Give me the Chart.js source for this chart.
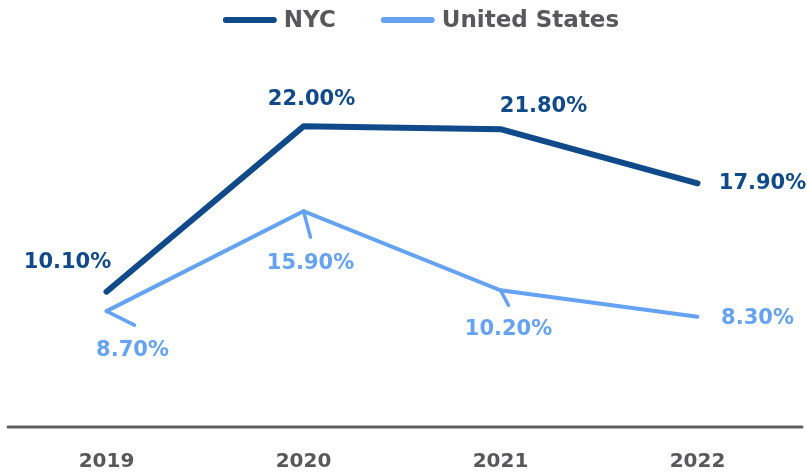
<!DOCTYPE html>
<html>
<head>
<meta charset="utf-8">
<script src="https://cdn.jsdelivr.net/npm/chart.js@4/dist/chart.umd.min.js"></script>
<style>
  html, body { margin: 0; padding: 0; background: #fff; }
  #wrap { width: 807px; height: 476px; }
</style>
</head>
<body>
<div id="wrap"><canvas id="chart"></canvas></div>
<script>
// data
const years = ['2019', '2020', '2021', '2022'];
const nycValues = [10.1, 22.0, 21.8, 17.9];
const usValues = [8.7, 15.9, 10.2, 8.3];

const NYC_COLOR = '#114A8A';
const US_COLOR = '#65A3F2';
const TEXT_GRAY = '#58585A';
const FONT = "'DejaVu Sans', sans-serif";

// label placement: offset from the point (dx, dy), plus an optional leader line end
const nycLabelPos = [
    { dx: -39, dy: -29 },
    { dx: 8, dy: -27 },
    { dx: 43, dy: -23 },
    { dx: 65, dy: 0 }
];
const usLabelPos = [
    { dx: 26, dy: 39, lead: [28, 14] },
    { dx: 7, dy: 52, lead: [7, 26] },
    { dx: 8, dy: 39, lead: [8, 15] },
    { dx: 60, dy: 2 }
];

const valueLabels = {
    id: 'valueLabels',
    afterDatasetsDraw(chart) {
        const ctx = chart.ctx;
        const setups = [nycLabelPos, usLabelPos];
        chart.data.datasets.forEach((ds, di) => {
            const meta = chart.getDatasetMeta(di);
            meta.data.forEach((pt, i) => {
                const pos = setups[di][i];
                ctx.save();
                if (pos.lead) {
                    ctx.strokeStyle = ds.borderColor;
                    ctx.lineWidth = 3.5;
                    ctx.lineCap = 'round';
                    ctx.beginPath();
                    ctx.moveTo(pt.x, pt.y);
                    ctx.lineTo(pt.x + pos.lead[0], pt.y + pos.lead[1]);
                    ctx.stroke();
                }
                ctx.fillStyle = ds.borderColor;
                ctx.font = `bold 21px ${FONT}`;
                ctx.textAlign = 'center';
                ctx.textBaseline = 'middle';
                ctx.fillText(ds.data[i].toFixed(2) + '%', pt.x + pos.dx, pt.y + pos.dy);
                ctx.restore();
            });
        });
    }
};

// bottom axis line runs a bit wider than the plot area
const baseLine = {
    id: 'baseLine',
    beforeDatasetsDraw(chart) {
        const ctx = chart.ctx;
        const y = chart.chartArea.bottom;
        ctx.save();
        ctx.strokeStyle = '#5f5f5f';
        ctx.lineWidth = 3;
        ctx.lineCap = 'round';
        ctx.beginPath();
        ctx.moveTo(8, y);
        ctx.lineTo(802, y);
        ctx.stroke();
        ctx.restore();
    }
};

// legend drawn by hand: the built-in one can't space items apart without extra top padding
const lineLegend = {
    id: 'lineLegend',
    afterDraw(chart) {
        const ctx = chart.ctx;
        const boxW = 54, textGap = 7, itemGap = 45, y = 20;
        ctx.save();
        ctx.font = `bold 23px ${FONT}`;
        ctx.textBaseline = 'middle';
        ctx.textAlign = 'left';
        const items = chart.data.datasets.map(ds => ({
            text: ds.label,
            color: ds.borderColor,
            w: ctx.measureText(ds.label).width
        }));
        const total = items.reduce((s, it) => s + boxW + textGap + it.w, 0) + itemGap * (items.length - 1);
        let x = 421 - total / 2;
        items.forEach(it => {
            ctx.strokeStyle = it.color;
            ctx.lineWidth = 6;
            ctx.lineCap = 'round';
            ctx.beginPath();
            ctx.moveTo(x + 3, y);
            ctx.lineTo(x + boxW - 3, y);
            ctx.stroke();
            ctx.fillStyle = TEXT_GRAY;
            ctx.fillText(it.text, x + boxW + textGap, y + 1);
            x += boxW + textGap + it.w + itemGap;
        });
        ctx.restore();
    }
};

new Chart(document.getElementById('chart'), {
    type: 'line',
    data: {
        labels: years,
        datasets: [
            {
                label: 'NYC',
                data: nycValues,
                borderColor: NYC_COLOR,
                backgroundColor: NYC_COLOR,
                borderWidth: 6,
                borderCapStyle: 'round',
                borderJoinStyle: 'round',
                pointRadius: 0,
                tension: 0
            },
            {
                label: 'United States',
                data: usValues,
                borderColor: US_COLOR,
                backgroundColor: US_COLOR,
                borderWidth: 4,
                borderCapStyle: 'round',
                borderJoinStyle: 'miter',
                pointRadius: 0,
                tension: 0
            }
        ]
    },
    options: {
        responsive: true,
        maintainAspectRatio: false,
        animation: false,
        layout: { padding: { left: 8, right: 11, top: 43, bottom: 0 } },
        plugins: {
            legend: { display: false },
            tooltip: { enabled: false }
        },
        scales: {
            x: {
                offset: true,
                grid: { display: false, drawTicks: false },
                border: { display: false },
                afterFit: (scale) => { scale.height = 49; },
                ticks: {
                    color: TEXT_GRAY,
                    padding: 23,
                    font: { size: 20, weight: 'bold', family: FONT }
                }
            },
            y: {
                display: false,
                min: 0.36,
                max: 28
            }
        }
    },
    plugins: [valueLabels, baseLine, lineLegend]
});
</script>
</body>
</html>
